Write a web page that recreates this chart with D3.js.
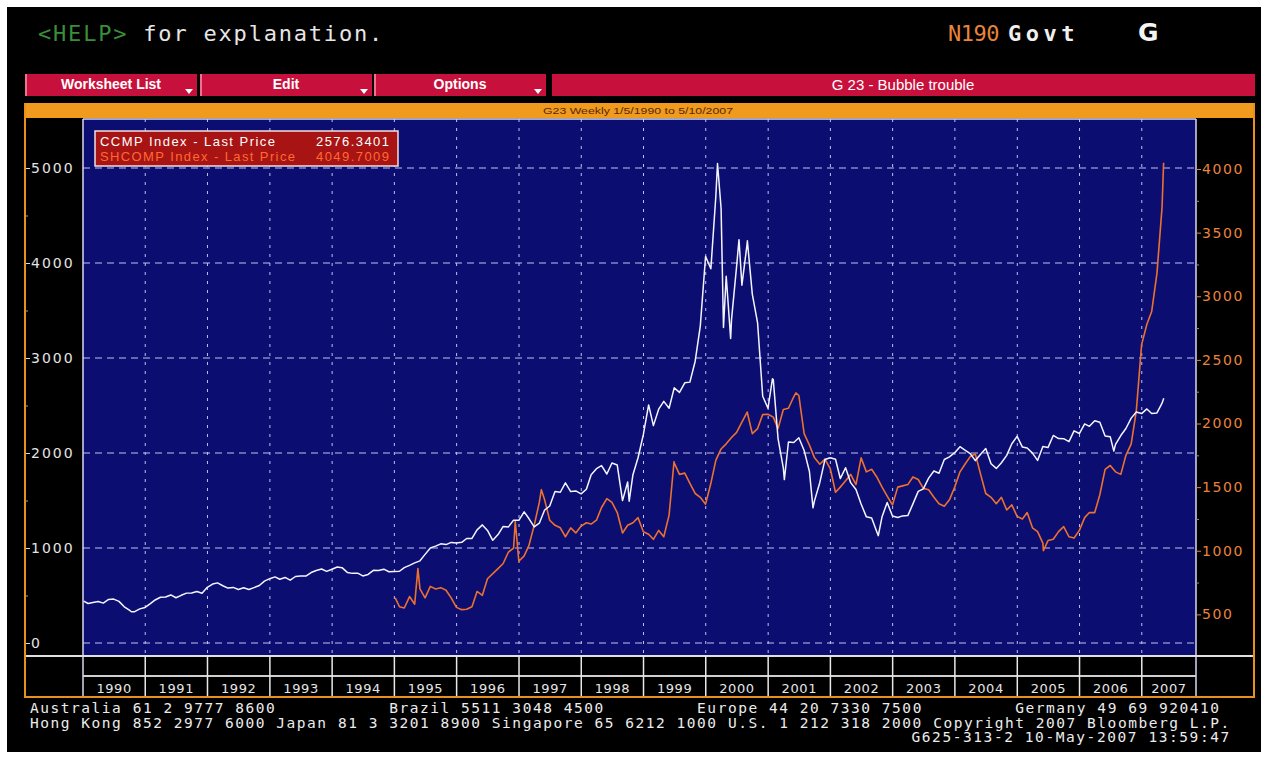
<!DOCTYPE html>
<html>
<head>
<meta charset="utf-8">
<script src="https://cdn.jsdelivr.net/npm/d3@7"></script>
<style>
body { margin: 0; background: #fff; }
svg { display: block; }
</style>
</head>
<body>
<svg id="chart" width="1268" height="758"></svg>
<script>
// CCMP (Nasdaq Composite) month-end values, Jan 1990 .. Apr 2007
var ccmpMonthly = [
  416, 426, 436, 420, 459, 462, 438, 381, 345, 330, 359, 374,
  414, 453, 482, 484, 506, 476, 502, 525, 527, 542, 523, 586,
  620, 633, 603, 578, 585, 563, 581, 563, 583, 605, 652, 677,
  696, 671, 690, 661, 700, 704, 705, 742, 763, 779, 754, 777,
  800, 793, 743, 733, 735, 706, 722, 765, 764, 777, 750, 752,
  755, 793, 817, 843, 865, 933, 1001, 1020, 1044, 1036, 1059, 1052,
  1060, 1100, 1101, 1191, 1243, 1185, 1081, 1141, 1227, 1222, 1293, 1291,
  1380, 1310, 1222, 1261, 1400, 1442, 1594, 1587, 1686, 1594, 1601, 1570,
  1619, 1771, 1835, 1868, 1779, 1895, 1873, 1499, 1694, 1772, 1950, 2193,
  2506, 2288, 2461, 2543, 2471, 2686, 2638, 2739, 2746, 2966, 3336, 4069,
  3940, 4697, 4573, 3861, 3401, 3966, 3767, 4206, 3673, 3370, 2598, 2471,
  2773, 2152, 1840, 2116, 2110, 2161, 2027, 1805, 1499, 1690, 1931, 1950,
  1934, 1731, 1845, 1688, 1616, 1463, 1328, 1315, 1172, 1330, 1479, 1336,
  1321, 1338, 1341, 1464, 1596, 1623, 1735, 1810, 1787, 1932, 1960, 2003,
  2066, 2030, 1994, 1920, 1987, 2048, 1887, 1838, 1897, 1975, 2097, 2175,
  2062, 2052, 1999, 1922, 2068, 2057, 2185, 2152, 2151, 2120, 2233, 2205,
  2306, 2281, 2340, 2323, 2179, 2172, 2091, 2184, 2258, 2367, 2432, 2415,
  2464, 2416, 2422, 2525
];
// weekly highs / lows that stand out in the picture
var ccmpWeekly = [
  ["1990-01-05", 440], ["1990-10-12", 329], ["1998-10-09", 1492],
  ["2000-03-10", 5048], ["2000-04-14", 3321], ["2000-05-26", 3205],
  ["2000-07-14", 4246], ["2000-09-01", 4234], ["2001-01-26", 2781],
  ["2001-04-06", 1720], ["2001-09-21", 1423], ["2002-10-09", 1130],
  ["2006-07-21", 2020], ["2007-05-10", 2576]
];

// SHCOMP (Shanghai Composite) month-end values, Jan 1995 .. Apr 2007
var shcompMonthly = [
  560, 550, 640, 580, 700, 630, 720, 700, 710, 690, 630, 555,
  537, 540, 560, 680, 650, 780, 820, 860, 900, 990, 1020, 917,
  960, 1040, 1200, 1380, 1400, 1240, 1200, 1180, 1110, 1180, 1140, 1194,
  1220, 1210, 1240, 1340, 1410, 1380, 1300, 1140, 1200, 1220, 1260, 1150,
  1130, 1090, 1160, 1110, 1280, 1690, 1600, 1610, 1530, 1450, 1420, 1366,
  1530, 1710, 1800, 1840, 1890, 1930, 2010, 2090, 1920, 1960, 2070, 2073,
  2050, 1960, 2110, 2120, 2210, 2220, 1920, 1830, 1730, 1680, 1720, 1646,
  1460, 1500, 1550, 1600, 1520, 1730, 1620, 1640, 1580, 1500, 1430, 1360,
  1500, 1510, 1520, 1580, 1560, 1490, 1480, 1420, 1370, 1350, 1400, 1500,
  1620, 1680, 1740, 1760, 1600, 1450, 1420, 1370, 1420, 1320, 1360, 1270,
  1250, 1300, 1180, 1150, 1060, 1080, 1090, 1150, 1190, 1110, 1100, 1160,
  1260, 1300, 1300, 1440, 1640, 1670, 1620, 1600, 1750, 1840, 2100, 2620,
  2780, 2880, 3180, 3700
];
var shcompWeekly = [
  ["1995-01-06", 630], ["1995-05-19", 860], ["1996-12-10", 1230],
  ["1997-05-12", 1480], ["1999-06-29", 1700], ["2001-06-13", 2240],
  ["2005-06-03", 1000], ["2007-05-09", 4049.7]
];

var leftTicks = [0, 1000, 2000, 3000, 4000, 5000];
var rightTicks = [500, 1000, 1500, 2000, 2500, 3000, 3500, 4000];
var years = d3.range(1990, 2008);

var legendRows = [
  ["CCMP Index - Last Price", "2576.3401"],
  ["SHCOMP Index - Last Price", "4049.7009"]
];
var menuLabels = ["Worksheet List", "Edit", "Options"];
var pageTitle = "G 23 - Bubble trouble";
var subTitle = "G23 Weekly 1/5/1990 to 5/10/2007";
var footerLines = [
  "Australia 61 2 9777 8600           Brazil 5511 3048 4500         Europe 44 20 7330 7500         Germany 49 69 920410",
  "Hong Kong 852 2977 6000 Japan 81 3 3201 8900 Singapore 65 6212 1000 U.S. 1 212 318 2000 Copyright 2007 Bloomberg L.P.",
  "G625-313-2 10-May-2007 13:59:47"
];

var parseDate = d3.timeParse("%Y-%m-%d");

function buildSeries(monthly, startYear, weekly) {
  var pts = monthly.map(function(v, i) {
    return { date: new Date(startYear, i + 1, 0), value: v };
  });
  weekly.forEach(function(w) {
    pts.push({ date: parseDate(w[0]), value: w[1] });
  });
  pts.sort(function(a, b) { return a.date - b.date; });
  return pts;
}

var ccmp = buildSeries(ccmpMonthly, 1990, ccmpWeekly);
var shcomp = buildSeries(shcompMonthly, 1995, shcompWeekly);

var svg = d3.select("#chart");

// plot box
var plot = {left: 83, right: 1196, top: 119, bottom: 656};

var x = d3.scaleTime()
  .domain([new Date(1990, 0, 1), new Date(2007, 10, 15)])
  .range([plot.left, plot.right]);
var yL = d3.scaleLinear().domain([0, 5000]).range([643, 168]);
var yR = d3.scaleLinear().domain([0, 4000]).range([678, 169]);

// screen background
svg.append("rect").attr("x", 7).attr("y", 7).attr("width", 1254).attr("height", 745).attr("fill", "#000");

// header line
var head = svg.append("text")
  .attr("x", 38).attr("y", 41)
  .attr("font-family", "DejaVu Sans Mono").attr("font-size", 22)
  .attr("letter-spacing", 1.8)
  .style("white-space", "pre");
head.append("tspan").attr("fill", "#3a8e3a").text("<HELP>");
head.append("tspan").attr("fill", "#e6e6e6").text(" for explanation.");

svg.append("text").attr("x", 948).attr("y", 41)
  .attr("font-family", "DejaVu Sans Mono").attr("font-size", 22).attr("letter-spacing", -0.5)
  .attr("fill", "#e8843c").text("N190");
svg.append("text").attr("x", 1008).attr("y", 41)
  .attr("font-family", "DejaVu Sans Mono").attr("font-size", 22).attr("font-weight", "bold")
  .attr("letter-spacing", 4.5)
  .attr("fill", "#f0f0f0").text("Govt");
svg.append("text").attr("x", 1138).attr("y", 41)
  .attr("font-family", "DejaVu Sans").attr("font-size", 25).attr("font-weight", "bold")
  .attr("fill", "#f4f4f4").text("G");

// menu bar
var menuX = [25, 200, 374];
menuLabels.forEach(function(label, i) {
  svg.append("rect").attr("x", menuX[i]).attr("y", 74).attr("width", 172).attr("height", 22)
    .attr("fill", "#c8103c");
  svg.append("line").attr("x1", menuX[i] + 1).attr("x2", menuX[i] + 1).attr("y1", 74).attr("y2", 96)
    .attr("stroke", "#f07090").attr("stroke-width", 2);
  svg.append("text").attr("x", menuX[i] + 86).attr("y", 89)
    .attr("text-anchor", "middle").attr("font-family", "Liberation Sans").attr("font-size", 14)
    .attr("font-weight", "bold").attr("fill", "#fff").text(label);
  var tx = menuX[i] + 160;
  svg.append("path").attr("d", "M" + tx + ",89 l8,0 l-4,5 z").attr("fill", "#fff");
});
svg.append("rect").attr("x", 552).attr("y", 74).attr("width", 703).attr("height", 22).attr("fill", "#c8103c");
svg.append("text").attr("x", 903).attr("y", 90)
  .attr("text-anchor", "middle").attr("font-family", "Liberation Sans").attr("font-size", 15)
  .attr("fill", "#fff").text(pageTitle);

// orange sub title strip
svg.append("rect").attr("x", 25).attr("y", 103).attr("width", 1230).attr("height", 15).attr("fill", "#f09a1e");
svg.append("text").attr("x", 638).attr("y", 114)
  .attr("text-anchor", "middle").attr("font-family", "Liberation Sans").attr("font-size", 9)
  .attr("textLength", 190).attr("lengthAdjust", "spacingAndGlyphs")
  .attr("fill", "#5a2800").text(subTitle);

// plot area
svg.append("rect")
  .attr("x", plot.left).attr("y", plot.top)
  .attr("width", plot.right - plot.left).attr("height", plot.bottom - plot.top)
  .attr("fill", "#0b0e70");

// grid
svg.append("g").selectAll("line").data(leftTicks).enter().append("line")
  .attr("x1", plot.left).attr("x2", plot.right)
  .attr("y1", function(d) { return yL(d); }).attr("y2", function(d) { return yL(d); })
  .attr("stroke", "#c0c0ee").attr("stroke-width", 1).attr("stroke-dasharray", "7,5");
svg.append("g").selectAll("line").data(years.slice(1)).enter().append("line")
  .attr("x1", function(d) { return x(new Date(d, 0, 1)); })
  .attr("x2", function(d) { return x(new Date(d, 0, 1)); })
  .attr("y1", plot.top).attr("y2", plot.bottom)
  .attr("stroke", "#c0c0ee").attr("stroke-width", 1).attr("stroke-dasharray", "3,6");

// series
var lineL = d3.line().x(function(d) { return x(d.date); }).y(function(d) { return yL(d.value); });
var lineR = d3.line().x(function(d) { return x(d.date); }).y(function(d) { return yR(d.value); });

svg.append("path").datum(shcomp).attr("d", lineR)
  .attr("fill", "none").attr("stroke", "#ec7030").attr("stroke-width", 1.6).attr("stroke-linejoin", "round");
svg.append("path").datum(ccmp).attr("d", lineL)
  .attr("fill", "none").attr("stroke", "#f4f4ff").attr("stroke-width", 1.5).attr("stroke-linejoin", "round");

// plot borders
svg.append("line").attr("x1", plot.left).attr("x2", plot.right).attr("y1", plot.top).attr("y2", plot.top)
  .attr("stroke", "#d8d8f0").attr("stroke-width", 1.5);
svg.append("line").attr("x1", plot.left).attr("x2", plot.left).attr("y1", plot.top).attr("y2", 696)
  .attr("stroke", "#d8d8f0").attr("stroke-width", 1.5);
svg.append("line").attr("x1", plot.right).attr("x2", plot.right).attr("y1", plot.top).attr("y2", 696)
  .attr("stroke", "#d8d8f0").attr("stroke-width", 1.5);

// year band under the plot
svg.append("line").attr("x1", 25).attr("x2", 1254).attr("y1", plot.bottom).attr("y2", plot.bottom)
  .attr("stroke", "#e0e0e0").attr("stroke-width", 2);
svg.append("line").attr("x1", plot.left).attr("x2", plot.right).attr("y1", 676).attr("y2", 676)
  .attr("stroke", "#cfcfcf").attr("stroke-width", 2);
var yearG = svg.append("g");
yearG.selectAll("line").data(years.slice(1)).enter().append("line")
  .attr("x1", function(d) { return x(new Date(d, 0, 1)); })
  .attr("x2", function(d) { return x(new Date(d, 0, 1)); })
  .attr("y1", plot.bottom).attr("y2", 696)
  .attr("stroke", "#e8e8e8").attr("stroke-width", 1.5);
yearG.selectAll("text").data(years).enter().append("text")
  .attr("x", function(d) {
    var a = x(new Date(d, 0, 1)), b = Math.min(x(new Date(d + 1, 0, 1)), plot.right);
    return (a + b) / 2;
  })
  .attr("y", 693)
  .attr("text-anchor", "middle").attr("font-family", "DejaVu Sans").attr("font-size", 13)
  .attr("letter-spacing", 0.6)
  .attr("fill", "#e6e6e6").text(function(d) { return d; });

// left axis
var axL = svg.append("g").attr("transform", "translate(25,0)")
  .call(d3.axisRight(yL).tickValues(leftTicks).tickSize(5).tickPadding(1).tickFormat(d3.format("d")));
axL.select(".domain").remove();
axL.selectAll("line").attr("stroke", "#dcdcdc");
axL.selectAll("text").attr("fill", "#e4e4e4").attr("font-family", "DejaVu Sans").attr("font-size", 14)
  .attr("letter-spacing", 2);
var axLm = svg.append("g").attr("transform", "translate(25,0)")
  .call(d3.axisRight(yL).tickValues([500, 1500, 2500, 3500, 4500]).tickSize(3).tickFormat(""));
axLm.select(".domain").remove();
axLm.selectAll("line").attr("stroke", "#a0a0a0");

// right axis
var axR = svg.append("g").attr("transform", "translate(" + plot.right + ",0)")
  .call(d3.axisRight(yR).tickValues(rightTicks).tickSize(5).tickPadding(1).tickFormat(d3.format("d")));
axR.select(".domain").remove();
axR.selectAll("line").attr("stroke", "#e8843c");
axR.selectAll("text").attr("fill", "#e8843c").attr("font-family", "DejaVu Sans").attr("font-size", 14)
  .attr("letter-spacing", 1.6);
var axRm = svg.append("g").attr("transform", "translate(" + plot.right + ",0)")
  .call(d3.axisRight(yR).tickValues(d3.range(750, 4000, 500)).tickSize(3).tickFormat(""));
axRm.select(".domain").remove();
axRm.selectAll("line").attr("stroke", "#9090a0");

// orange frame
svg.append("path")
  .attr("d", "M25,103 L25,697 L1254,697 L1254,103")
  .attr("fill", "none").attr("stroke", "#e8901c").attr("stroke-width", 2);

// legend
svg.append("rect").attr("x", 95).attr("y", 131).attr("width", 303).attr("height", 35)
  .attr("fill", "#a81414").attr("stroke", "#f0e0e0").attr("stroke-width", 1.5);
var legendColors = ["#ffffff", "#ff6a30"];
var legendWidths = [175, 195];
legendRows.forEach(function(r, i) {
  var yy = 146 + i * 15;
  svg.append("text").attr("x", 100).attr("y", yy)
    .attr("font-family", "Liberation Sans").attr("font-size", 13)
    .attr("textLength", legendWidths[i]).attr("lengthAdjust", "spacing")
    .attr("fill", legendColors[i]).text(r[0]);
  svg.append("text").attr("x", 389).attr("y", yy).attr("text-anchor", "end")
    .attr("font-family", "Liberation Sans").attr("font-size", 13)
    .attr("textLength", 73).attr("lengthAdjust", "spacing")
    .attr("fill", legendColors[i]).text(r[1]);
});

// footer
var charW = 10.25;
footerLines.forEach(function(s, i) {
  var startX = i < 2 ? 30 : 30 + (117 - s.length) * charW;
  svg.append("text").attr("x", startX).attr("y", 713 + i * 14.5)
    .attr("font-family", "DejaVu Sans Mono").attr("font-size", 14.5)
    .attr("textLength", s.length * charW).attr("lengthAdjust", "spacing")
    .style("white-space", "pre")
    .attr("fill", "#ececec").text(s);
});
</script>
</body>
</html>
